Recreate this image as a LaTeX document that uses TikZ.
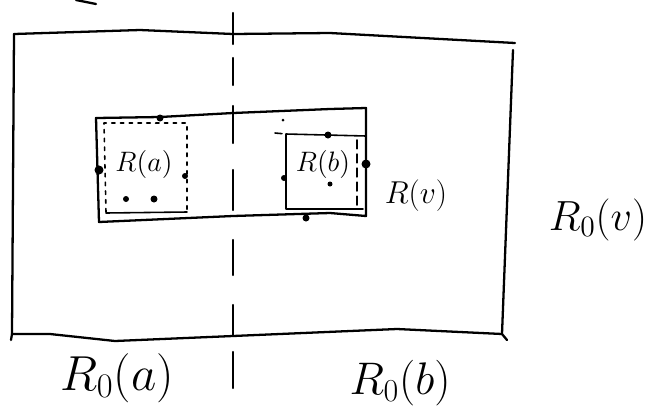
\RequirePackage{fix-cm}
\documentclass[tikz,border=0pt]{standalone}
\usepackage{amsmath}
\usepackage{tikz}
\usetikzlibrary{calc}

\begin{document}
\begin{tikzpicture}[x=0.02cm,y=-0.02cm,
    pen/.style={line width=1.3pt,line cap=round,line join=round},
    thinpen/.style={line width=0.9pt,line cap=round,line join=round},
    dotted box/.style={thinpen,dash pattern=on 2pt off 3pt},
    sz/.style={font=\fontsize{#1}{#1}\selectfont,inner sep=0pt}]
  \useasboundingbox (0,0) rectangle (660,417);

  % stray stroke at the top edge
  \draw[pen] (76,0) -- (96,4);

  % outer box R_0(v)
  \coordinate (TL) at (14,34);
  \coordinate (TR) at (515,43);
  \coordinate (BR) at (502,334);
  \coordinate (BL) at (12,334);
  \draw[pen] (TL) -- (140,30) -- (233,34) -- (330,33) -- (TR);
  \draw[pen] (513,50) -- (BR) -- (507,340);
  \draw[pen] (11,340) -- (BL) -- (50,334) -- (115,341) -- (233,336) -- (397,329) -- (BR);
  \draw[pen] (TL) -- (BL);

  % R(v)
  \coordinate (vTL) at (96,118);
  \coordinate (vTR) at (366,108);
  \coordinate (vBR) at (366,216);
  \coordinate (vBL) at (99,222);
  \draw[pen] (vTL) -- (160,117) -- (233,113) -- (330,109) -- (vTR)
    -- (vBR) -- (330,213) -- (233,216) -- (vBL) -- cycle;

  % R(a): dashed box
  \draw[dotted box] (106,212) -- (104,123) -- (187,123) -- (187,212);
  \draw[thinpen] (106,213) -- (187,212);

  % R(b)
  \draw[thinpen] (366,136) -- (286,134) -- (286,209) -- (363,209);
  \draw[thinpen,dash pattern=on 4pt off 3pt] (275,133) -- (286,134);
  \draw[thinpen,dash pattern=on 5pt off 3pt] (357,140) -- (357,207);

  % dividing line between a and b
  \draw[pen] (233,13) -- (233,44) (233,58) -- (233,85) (233,106) -- (233,143)
    (233,170) -- (233,210) (233,240) -- (233,275) (233,305) -- (233,335)
    (233,352) -- (233,388);

  % marked points
  \fill (160,118) circle (3.5);
  \fill (99,170) circle (4.5);
  \fill (185,176) circle (3);
  \fill (126,199) circle (3);
  \fill (154,199) circle (3.5);
  \fill (283,120) circle (1.5);
  \fill (328,135) circle (3.5);
  \fill (284,178) circle (3);
  \fill (366,164) circle (4.5);
  \fill (330,184) circle (2.5);
  \fill (306,218) circle (3.5);

  % labels
  \node[sz=16] (ra)  at (144,164) {$R(a)$};
  \node[sz=16] (rb)  at (323,164) {$R(b)$};
  \node[sz=18] (rv)  at (416,196) {$R(v)$};
  \node[sz=24] (r0v) at (598,220) {$R_0(v)$};
  \node[sz=28] (r0a) at (117,378) {$R_0(a)$};
  \node[sz=26] (r0b) at (400,383) {$R_0(b)$};
\end{tikzpicture}
\end{document}
